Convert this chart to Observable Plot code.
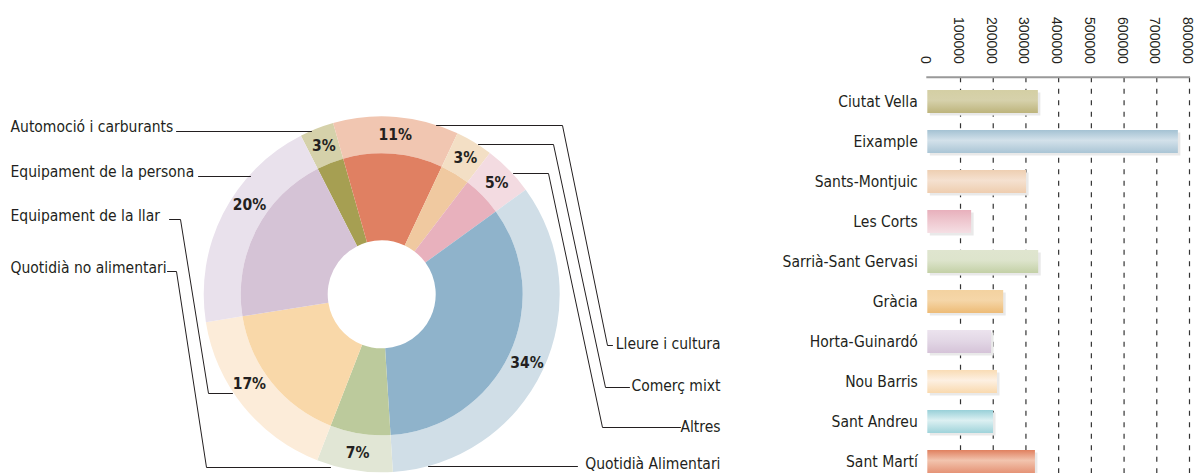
<!DOCTYPE html>
<html><head><meta charset="utf-8">
<script src="https://cdn.jsdelivr.net/npm/d3@7"></script>
<script src="https://cdn.jsdelivr.net/npm/@observablehq/plot@0.6"></script>
<style>
html,body{margin:0;padding:0;background:#fff;overflow:hidden;width:1196px;height:473px}
#wrap{position:relative;width:1196px;height:473px;overflow:hidden}
#donut{position:absolute;left:0;top:0;width:760px;height:473px}
#bars{position:absolute;left:760px;top:0;width:436px;height:485px}
</style></head><body>
<svg width="0" height="0" style="position:absolute"><defs id="grads"></defs></svg>
<div id="wrap"><div id="donut"></div><div id="bars"></div></div>
<script>
// ---------- Donut data ----------
const sectors = ["Automoció i carburants","Lleure i cultura","Comerç mixt","Altres","Quotidià Alimentari","Quotidià no alimentari","Equipament de la llar","Equipament de la persona"];
const shares = [3.1, 11.4, 3.4, 4.6, 34.0, 6.9, 16.6, 20.0];
const sectorInner = ["#a69f52","#e08062","#f0c9a0","#e8b1bd","#8fb3cb","#bcca9c","#f9d8a9","#d5c3d6"];
const sectorOuter = ["#d5d1aa","#f1c6b1","#f3dfc5","#f3dbe1","#d0dee7","#e1e6d5","#fcecd9","#e9e1ec"];

// ---------- Bar data ----------
const districts = ["Ciutat Vella","Eixample","Sants-Montjuic","Les Corts","Sarrià-Sant Gervasi","Gràcia","Horta-Guinardó","Nou Barris","Sant Andreu","Sant Martí"];
const sales = [338000, 766000, 302000, 134000, 339000, 232000, 195000, 213000, 201000, 329000];
const barTop = ["#d4cfa4","#a4c2d3","#eecfb2","#e8b0bc","#dfe5cf","#f3d2a0","#ece3ee","#f9dcb5","#98d0d8","#e0805f"];
const barMid = ["#d6d1ab","#d3e1ea","#f5e1d0","#eec6ce","#dde4cc","#f5d6a8","#e3d8e6","#fdf0e2","#dcf0f2","#f2c4ae"];
const barBottom = ["#bdb47c","#aac5d5","#eecdaf","#f5dfe4","#c3d0a6","#edbb76","#d5c3d8","#f9d9ae","#9fd3da","#e59376"];
const xTicks = [0,100000,200000,300000,400000,500000,600000,700000,800000];

const FONT = '"Liberation Sans Narrow","Arial Narrow","DejaVu Sans Condensed",sans-serif';
const INK = "#231f20";
const LABEL_SIZE = 15.5;

// gradients for bars
const defs = d3.select("#grads");
districts.forEach((d,i)=>{
  const g = defs.append("linearGradient").attr("id","bar"+i).attr("x1",0).attr("y1",0).attr("x2",0).attr("y2",1);
  g.append("stop").attr("offset","0%").attr("stop-color",barTop[i]);
  g.append("stop").attr("offset","45%").attr("stop-color",barMid[i]);
  g.append("stop").attr("offset","100%").attr("stop-color",barBottom[i]);
});

// ---------- Donut ----------
const CX = 381.7, CY = 294.3, R0 = 54, R1 = 141, R2 = 178, RL = 160;
const start = -27 * Math.PI / 180;
const sectorData = sectors.map((name,i)=>({name, share: shares[i], inner: sectorInner[i], outer: sectorOuter[i]}));
const arcs = d3.pie().sort(null).value(d=>d.share).startAngle(start).endAngle(start + 2*Math.PI)(sectorData);
// small angular nudges (degrees) for percentage label placement
const labelNudge = {"Equipament de la persona": 7, "Equipament de la llar": 5};
const mid = d => (d.startAngle + d.endAngle)/2 + (labelNudge[d.data.name] || 0) * Math.PI / 180;

// label layout (annotation positions)
const layout = {
  "Automoció i carburants": {x:10, y:131, side:"left", pts:[[176,131],[311,131]]},
  "Equipament de la persona": {x:10, y:176, side:"left", pts:[[198,176],[250,176]]},
  "Equipament de la llar": {x:10, y:220, side:"left", pts:[[169,219],[180,219],[208,393],[232,393]]},
  "Quotidià no alimentari": {x:10, y:272, side:"left", pts:[[167,271],[176,271],[206,467],[330,467]]},
  "Lleure i cultura": {x:720, y:348, side:"right", pts:[[436,125],[562,125],[607,345],[612,345]]},
  "Comerç mixt": {x:720, y:390, side:"right", pts:[[478,144],[553,144],[605,387],[629,387]]},
  "Altres": {x:720, y:431, side:"right", pts:[[513,173],[548,173],[602,427],[680,427]]},
  "Quotidià Alimentari": {x:720, y:468, side:"right", pts:[[428,466],[577,466]]}
};
const labelRows = sectors.map(name => ({name, ...layout[name]}));
const lineRows = sectors.flatMap(name => layout[name].pts.map(([x,y])=>({name, x, y})));

function donutMark(index, {x, y}) {
  const g = d3.create("svg:g").attr("transform", `translate(${x(CX)},${y(CY)})`);
  const outer = d3.arc().innerRadius(R1).outerRadius(R2);
  const inner = d3.arc().innerRadius(R0).outerRadius(R1);
  g.selectAll("path.o").data(arcs).join("path").attr("class","o").attr("d", outer).attr("fill", d=>d.data.outer);
  g.selectAll("path.i").data(arcs).join("path").attr("class","i").attr("d", inner).attr("fill", d=>d.data.inner);
  return g.node();
}

const donut = Plot.plot({
  width: 760, height: 473, margin: 0,
  x: {domain:[0,760], range:[0,760], axis:null},
  y: {domain:[0,473], range:[0,473], axis:null},
  style: {fontFamily: FONT, background: "transparent", color: INK},
  marks: [
    donutMark,
    Plot.line(lineRows, {x:"x", y:"y", z:"name", stroke: INK, strokeWidth: 1}),
    Plot.text(arcs, {x: d => CX + RL*Math.sin(mid(d)), y: d => CY - RL*Math.cos(mid(d)),
      text: d => Math.round(d.data.share) + "%", fontWeight: "bold", fontSize: 15.5, fill: INK}),
    Plot.text(labelRows.filter(d => d.side === "left"), {x:"x", y:"y", text:"name", textAnchor:"start", lineAnchor:"bottom", fontSize: LABEL_SIZE, fill: INK}),
    Plot.text(labelRows.filter(d => d.side === "right"), {x:"x", y:"y", text:"name", textAnchor:"end", lineAnchor:"bottom", fontSize: LABEL_SIZE, fill: INK})
  ]
});
document.getElementById("donut").append(donut);

// ---------- Bars ----------
const barData = districts.map((name,i)=>({name, value: sales[i], fill: `url(#bar${i})`}));

function axisLine(index, {x}, values, {marginTop}) {
  return d3.create("svg:line")
    .attr("x1", x(0) - 1).attr("x2", x(800000) + 1)
    .attr("y1", marginTop).attr("y2", marginTop)
    .attr("stroke", "#999").attr("stroke-width", 2).node();
}

const bars = Plot.plot({
  width: 436, height: 485,
  marginLeft: 167.3, marginRight: 7, marginTop: 77.3, marginBottom: 0,
  x: {domain:[0,800000], axis:null},
  y: {domain: districts, paddingInner: 0.42, paddingOuter: 0.274, axis:null, label:null},
  color: {type: "identity"},
  style: {fontFamily: FONT, background: "transparent", color: INK, overflow: "visible"},
  marks: [
    Plot.gridX(xTicks.filter(t => t > 0), {stroke: "#333", strokeOpacity: 1, strokeDasharray: "5,6.5", strokeWidth: 1.2}),
    Plot.barX(barData, {x: "value", y: "name", fill: "#e9e9e9", dx: 2.5, dy: 2.5}),
    Plot.barX(barData, {x: "value", y: "name", fill: "fill"}),
    axisLine,
    Plot.text(xTicks, {x: d => d, text: d => String(d), frameAnchor: "top", rotate: 90, textAnchor: "end",
      lineAnchor: "middle", dx: -2, dy: -14, fontSize: 14, fill: INK, fontFamily: '"Liberation Sans", Arial, sans-serif'}),
    Plot.axisY({tickSize: 0, tickPadding: 10, fontSize: LABEL_SIZE, fill: INK, label: null})
  ]
});
document.getElementById("bars").append(bars);
</script>
</body></html>
